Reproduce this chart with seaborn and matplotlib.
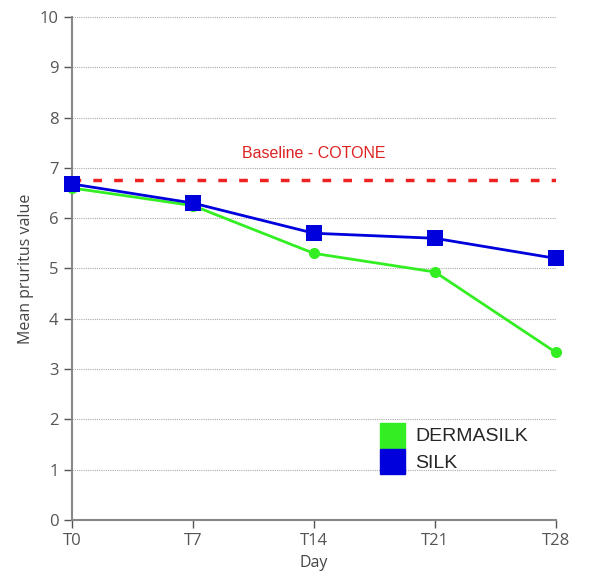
import matplotlib
matplotlib.use("Agg")
import matplotlib.pyplot as plt
import seaborn as sns
import pandas as pd
from matplotlib.lines import Line2D

days = ["T0", "T7", "T14", "T21", "T28"]
dermasilk = [6.60, 6.25, 5.30, 4.93, 3.33]
silk = [6.68, 6.30, 5.70, 5.60, 5.20]
baseline = 6.75
series_names = ["DERMASILK", "SILK"]
colors = {"DERMASILK": "#33ee22", "SILK": "#0000dd"}

df = pd.DataFrame({
    "Day": list(range(len(days))) * 2,
    "value": dermasilk + silk,
    "series": ["DERMASILK"] * len(days) + ["SILK"] * len(days),
})

sns.set_style("white")
plt.rcParams['font.family'] = ['Open Sans', 'DejaVu Sans']

fig = plt.figure(figsize=(5.94, 5.83), dpi=100)
ax = fig.add_axes([0.121, 0.108, 0.815, 0.863])

for y in range(1, 11):
    ax.axhline(y, color="#aaaaaa", lw=0.8, ls=(0, (1, 1)), zorder=0)

sns.lineplot(data=df, x="Day", y="value", hue="series", style="series",
             markers={"DERMASILK": "o", "SILK": "s"}, dashes=False,
             palette=colors, ax=ax, lw=2, legend=False, zorder=3,
             markeredgewidth=0)
for line in ax.lines:
    line.set_clip_on(False)
    if line.get_marker() == "s":
        line.set_markersize(12)
    elif line.get_marker() == "o":
        line.set_markersize(8)

ax.axhline(baseline, color="#ee2222", lw=2.5, ls=(0, (2.5, 3.5)), zorder=2)
ax.text(2.0, 7.28, "Baseline - COTONE", color="#dd2222", ha="center", va="center",
        fontsize=11.5, family=["Liberation Sans"])

ax.set_xlim(0, 4)
ax.set_ylim(0, 10)
ax.set_xticks(range(len(days)))
ax.set_xticklabels(days)
ax.set_yticks(range(0, 11))
ax.set_xlabel("Day", fontsize=11.5, color="#444444")
ax.set_ylabel("Mean pruritus value", fontsize=11.5, color="#444444")
ax.tick_params(axis="both", colors="#555555", labelsize=12, length=6, width=1,
               direction="out", left=True, bottom=True)
for s in ["top", "right"]:
    ax.spines[s].set_visible(False)
for s in ["left", "bottom"]:
    ax.spines[s].set_color("#888888")
    ax.spines[s].set_linewidth(1.5)

handles = [Line2D([], [], marker="s", ls="none", markersize=18,
                  markerfacecolor=colors[n], markeredgecolor=colors[n]) for n in series_names]
leg = ax.legend(handles, series_names, loc="upper left", bbox_to_anchor=(0.585, 0.218),
                frameon=False, handletextpad=0.2, labelspacing=0.45,
                prop={"family": "Liberation Sans", "size": 14})

fig.savefig("out.png", dpi=100)
